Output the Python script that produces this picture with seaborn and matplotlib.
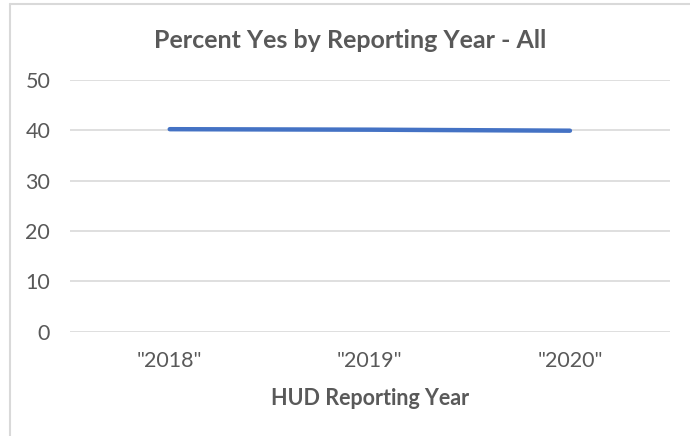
import matplotlib
matplotlib.use("Agg")
import matplotlib.pyplot as plt
import seaborn as sns
import pandas as pd

years = ['"2018"', '"2019"', '"2020"']
percent_yes = [40.2, 40.1, 39.9]
y_ticks = [0, 10, 20, 30, 40, 50]

sns.set_style("white")
plt.rcParams['font.family'] = ['Lato', 'DejaVu Sans']

df = pd.DataFrame({"year": years, "pct": percent_yes})

fig = plt.figure(figsize=(6.9, 4.36), dpi=100)
ax = fig.add_axes([0.101, 0.239, 0.870, 0.578])

sns.lineplot(data=df, x="year", y="pct", ax=ax, color="#4472C4",
             linewidth=3.2, sort=False, solid_capstyle="round")

ax.set_xlim(-0.5, 2.5)
ax.set_ylim(0, 50)
ax.set_yticks(y_ticks)
ax.yaxis.grid(True, color="#D9D9D9", linewidth=1.2)
ax.set_axisbelow(True)
for s in ax.spines.values():
    s.set_visible(False)
ax.tick_params(axis="both", length=0, labelsize=15.5, labelcolor="#595959")
ax.tick_params(axis="x", pad=14)
ax.tick_params(axis="y", pad=14)

# Excel centres the title on the whole chart area, not the plot area
fig.text(0.508, 1 - 40 / 436, "Percent Yes by Reporting Year - All", fontsize=18,
         fontweight="bold", color="#595959", ha="center", va="center")
ax.set_xlabel("HUD Reporting Year", fontsize=15.5, fontweight="bold",
              color="#595959", labelpad=12)
ax.set_ylabel("")

# chart frame (Excel style), only top and left edges visible
fig.add_artist(plt.Line2D([10 / 690, 1], [1 - 4 / 436, 1 - 4 / 436],
                          color="#D9D9D9", linewidth=1.5, transform=fig.transFigure))
fig.add_artist(plt.Line2D([10 / 690, 10 / 690], [0, 1 - 4 / 436],
                          color="#D9D9D9", linewidth=1.5, transform=fig.transFigure))

fig.savefig("out.png", dpi=100)
